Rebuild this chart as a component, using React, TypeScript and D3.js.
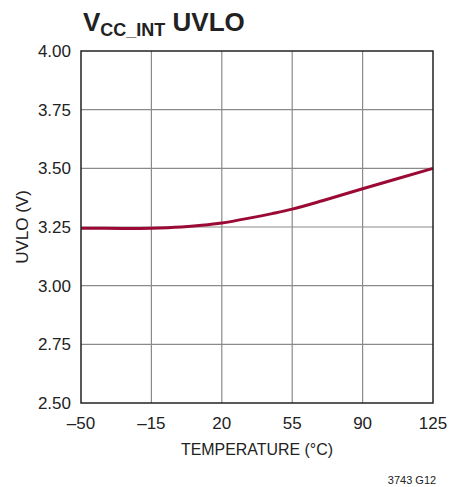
import React from 'react';
import * as d3 from 'd3';

const temps = [-50, -30, -15, 0, 10, 20, 35, 45, 55, 70, 90, 125];
const uvlo = [3.245, 3.244, 3.245, 3.25, 3.257, 3.267, 3.29, 3.307, 3.326, 3.362, 3.413, 3.5];
const xTicks = [-50, -15, 20, 55, 90, 125];
const yTicks = [2.5, 2.75, 3.0, 3.25, 3.5, 3.75, 4.0];

const font = '"Liberation Sans Narrow", "Arial Narrow", sans-serif';

export default function App() {
  const width = 458;
  const height = 487;
  const margin = { top: 51, right: 25, bottom: 84, left: 81 };

  const x = d3.scaleLinear().domain([-50, 125]).range([margin.left, width - margin.right]);
  const y = d3.scaleLinear().domain([2.5, 4.0]).range([height - margin.bottom, margin.top]);

  const line = d3
    .line<number>()
    .x((_, i) => x(temps[i]))
    .y(d => y(d))
    .curve(d3.curveCatmullRom.alpha(0.5));

  return (
    <svg
      width={width}
      height={height}
      style={{ position: 'absolute', left: 0, top: 0, background: '#fff' }}
    >
      <text x={83} y={31} fontFamily={font} fontWeight="bold" fontSize={26} fill="#222">
        V<tspan fontSize={18} dy={5}>CC_INT</tspan>
        <tspan dy={-5}> UVLO</tspan>
      </text>

      {xTicks.slice(1, -1).map(t => (
        <line key={'gx' + t} x1={x(t)} x2={x(t)} y1={y(4)} y2={y(2.5)} stroke="#8a8a8a" strokeWidth={1.2} />
      ))}
      {yTicks.slice(1, -1).map(t => (
        <line key={'gy' + t} x1={x(-50)} x2={x(125)} y1={y(t)} y2={y(t)} stroke="#8a8a8a" strokeWidth={1.2} />
      ))}

      <path d={line(uvlo) || ''} fill="none" stroke="#9b0a35" strokeWidth={3} />

      <rect
        x={x(-50)}
        y={y(4)}
        width={x(125) - x(-50)}
        height={y(2.5) - y(4)}
        fill="none"
        stroke="#222"
        strokeWidth={1.5}
      />

      {yTicks.map(t => (
        <text key={'ly' + t} x={71} y={y(t)} dy="0.35em" textAnchor="end" fontFamily={font} fontSize={17} fill="#222">
          {d3.format('.2f')(t)}
        </text>
      ))}
      {xTicks.map(t => (
        <text key={'lx' + t} x={x(t)} y={429} textAnchor="middle" fontFamily={font} fontSize={17} fill="#222">
          {t < 0 ? '\u2013' + Math.abs(t) : t}
        </text>
      ))}

      <text
        x={257}
        y={455}
        textAnchor="middle"
        fontFamily={font}
        fontSize={17}
        fill="#222"
        textLength={152}
        lengthAdjust="spacingAndGlyphs"
      >
        TEMPERATURE (°C)
      </text>
      <text
        transform={`translate(28, ${(y(4) + y(2.5)) / 2}) rotate(-90)`}
        textAnchor="middle"
        fontFamily={font}
        fontSize={17}
        fill="#222"
      >
        UVLO (V)
      </text>
      <text x={412} y={484} textAnchor="middle" fontFamily={font} fontSize={11} fill="#222">
        3743 G12
      </text>
    </svg>
  );
}
